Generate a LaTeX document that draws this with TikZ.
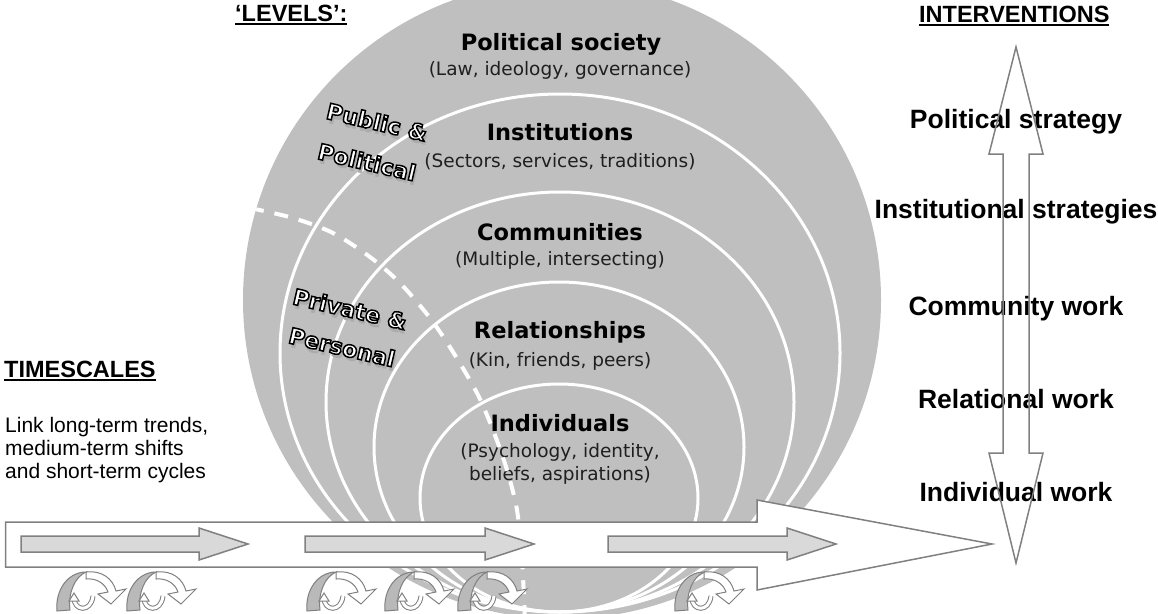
\documentclass[tikz,border=0pt]{standalone}
\usepackage{fontspec}
\setmainfont{Liberation Sans}
\newfontfamily\lvfont{DejaVu Sans}
\usetikzlibrary{positioning,calc}

\newcommand{\headul}[1]{\setbox0\hbox{#1}\rlap{\rule[-3.5pt]{\wd0}{2pt}}\box0}
\newcommand{\hollow}[1]{\special{pdf:code 0 G 2 Tr 1.5 w}#1\special{pdf:code 0 Tr}}
\newcommand{\wordart}[3]{%
  \node[wordart, text=gray!65, shift={(3,4)}] at (#2) {#3};
  \node[wordart, text=white] (#1) at (#2) {\hollow{#3}};
}

\tikzset{
  heading/.style={font=\bfseries\fontsize{23.5}{27}\selectfont, inner sep=0pt, anchor=base west},
  levtitle/.style={font=\lvfont\bfseries\fontsize{22.5}{26}\selectfont, inner sep=0pt, anchor=base},
  levsub/.style={font=\lvfont\fontsize{18.5}{22}\selectfont, text=black!88, inner sep=0pt, anchor=base},
  work/.style={font=\bfseries\fontsize{26.5}{30}\selectfont, inner sep=0pt, anchor=base},
  wordart/.style={font=\lvfont\bfseries\fontsize{22}{25}\selectfont, rotate=-13, inner sep=0pt},
  ring/.style={draw=white, line width=3pt},
  outl/.style={draw=gray, line width=1.5pt},
  loopicon/.pic={
    \filldraw[fill=white, draw=gray, line width=1pt]
      (36,6) .. controls (52,4) and (63,13) .. (66,25) -- (76,23) -- (61,38) -- (48,28) -- (58,26)
      .. controls (55,17) and (46,12) .. (36,13) -- cycle;
    \filldraw[fill=gray!55, draw=gray, line width=1pt]
      (7,45) .. controls (5,24) and (18,6) .. (36,6) .. controls (25,11) and (18,26) .. (20,44) -- cycle;
    \draw[gray, line width=5pt] (24,32) .. controls (24,45) and (41,47) .. (43,30);
    \draw[white, line width=3pt] (24,32) .. controls (24,45) and (41,47) .. (43,30);
    \filldraw[fill=white, draw=gray, line width=1pt] (19,35) -- (24,27) -- (29,35) -- cycle;
  }
}

\begin{document}
\begin{tikzpicture}[x=1pt, y=-1pt]
  \useasboundingbox (0,0) rectangle (1158,613);

  \begin{scope}
    \clip (0,0) rectangle (1158,613);
    \fill[gray!50] (562,300) circle [radius=319pt];
  \end{scope}
  \draw[ring] (560,353) ellipse [x radius=280pt, y radius=259pt];
  \draw[ring] (560,402) ellipse [x radius=234pt, y radius=210pt];
  \draw[ring] (559,447) ellipse [x radius=185pt, y radius=165pt];
  \draw[ring] (559,498) ellipse [x radius=139pt, y radius=114pt];

  \node[levtitle] (pol) at (561,50) {Political society};
  \node[levsub] (polsub) at (560,75) {(Law, ideology, governance)};
  \node[levtitle] (inst) at (560,140) {Institutions};
  \node[levsub] (instsub) at (560,167) {(Sectors, services, traditions)};
  \node[levtitle] (comm) at (560,240) {Communities};
  \node[levsub] (commsub) at (560,265) {(Multiple, intersecting)};
  \node[levtitle] (rel) at (560,338) {Relationships};
  \node[levsub] (relsub) at (560,366) {(Kin, friends, peers)};
  \node[levtitle] (ind) at (560,431) {Individuals};
  \node[levsub] (indsub) at (560,457) {(Psychology, identity,};
  \node[levsub] (indsub2) at (560,480) {beliefs, aspirations)};

  \wordart{pub}{377,122}{Public \&}
  \wordart{polit}{367,162}{Political}
  \wordart{priv}{350,309}{Private \&}
  \wordart{pers}{342,347}{Personal}

  \begin{scope}
    \clip (562,300) circle [radius=319pt];
    \draw[white, line width=4pt, dash pattern=on 14pt off 11pt]
      plot[smooth] coordinates {(250,208) (293,218) (333,233) (370,257) (400,283) (430,318)
        (453,352) (477,393) (493,430) (507,470) (517,510) (522,560) (525,620)};
  \end{scope}

  \draw[outl, fill=white] (5.5,522) -- (757,522) -- (757,500) -- (992,544) -- (757,590)
    -- (757,567) -- (5.5,567) -- cycle;
  \foreach \s/\e in {21/199, 305/485, 608/787}
    \draw[outl, fill=gray!30] (\s,536) -- (\e,536) -- (\e,528) -- (\e+49,544) -- (\e,560)
      -- (\e,552) -- (\s,552) -- cycle;
  \foreach \lx in {50,120,300,378,451,668}
    \pic at (\lx,566) {loopicon};

  \node[heading] (levels) at (235,21) {\headul{‘LEVELS’:}};
  \node[heading] (interv) at (919,22) {\headul{INTERVENTIONS}};
  \node[heading] (times) at (4,377) {\headul{TIMESCALES}};
  \node[anchor=north west, align=left, inner sep=0pt, font=\fontsize{21}{23}\selectfont] (link)
    at (5,417) {Link long-term trends,\\medium-term shifts\\and short-term cycles};

  \node[work] (wpol) at (1016,128) {Political strategy};
  \node[work] (winst) at (1016,218) {Institutional strategies};
  \node[work] (wcomm) at (1016,315) {Community work};
  \node[work] (wrel) at (1016,408) {Relational work};
  \node[work] (wind) at (1016,501) {Individual work};

  \draw[outl] (1016,47) -- (1043,154) -- (1029,154) -- (1029,453) -- (1043,453) -- (1016,563)
    -- (989,453) -- (1003,453) -- (1003,154) -- (989,154) -- cycle;
\end{tikzpicture}
\end{document}
